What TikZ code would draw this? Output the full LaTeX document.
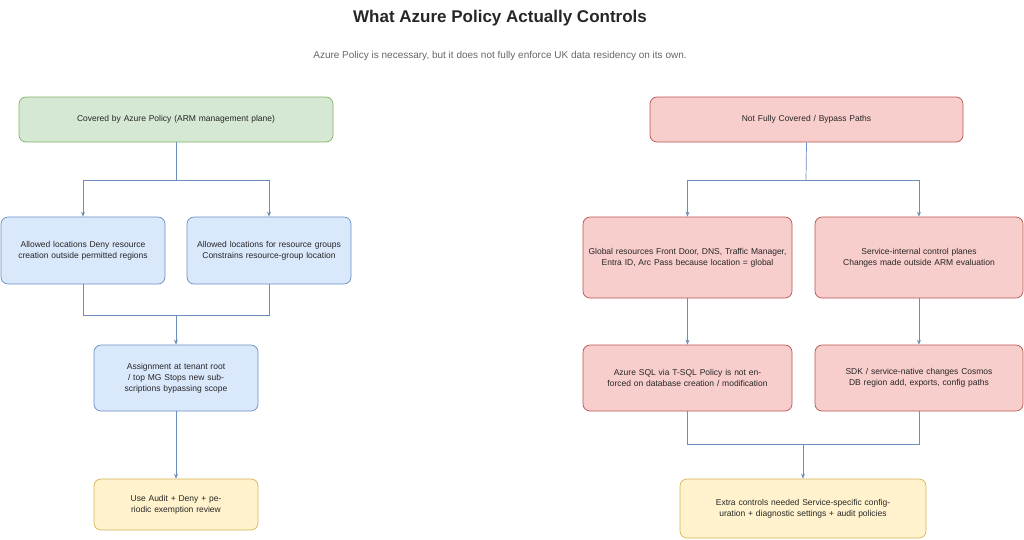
\documentclass[tikz,border=0pt]{standalone}
\usepackage{fontspec}
\setmainfont{Liberation Sans}
\usetikzlibrary{arrows.meta}
\definecolor{gf}{HTML}{D5E8D4}\definecolor{gd}{HTML}{82B366}
\definecolor{bf}{HTML}{DAE8FC}\definecolor{bd}{HTML}{6C8EBF}
\definecolor{rf}{HTML}{F8CECC}\definecolor{rd}{HTML}{B85450}
\definecolor{yf}{HTML}{FFF2CC}\definecolor{yd}{HTML}{D6B656}
\definecolor{ec}{HTML}{6C8EBF}
\tikzset{
 x=1pt,y=-1pt,
 bx/.style={draw,rounded corners=7pt,align=center,font=\fontsize{8.5}{11}\selectfont,text=black!85,inner sep=2pt,line width=0.7pt},
 gbox/.style={bx,fill=gf,draw=gd},
 bbox/.style={bx,fill=bf,draw=bd},
 rbox/.style={bx,fill=rf,draw=rd},
 ybox/.style={bx,fill=yf,draw=yd},
 ln/.style={draw=ec,line width=0.7pt},
 ar/.style={ln,-{Stealth[length=5pt,width=4pt]}}
}
\newcommand{\bxat}[6]{\node[#1,minimum width=#4-#2,minimum height=#5-#3,text width=#4-#2-6] (#6) at ({(#2+#4)/2},{(#3+#5)/2})}
\begin{document}
\begin{tikzpicture}
\useasboundingbox (0,0) rectangle (1024,539);
\node[font=\bfseries\fontsize{17}{20}\selectfont,text=black!85] (title) at (500,18) {What Azure Policy Actually Controls};
\node[font=\fontsize{10}{12}\selectfont,text=black!60] (sub) at (500,56) {Azure Policy is necessary, but it does not fully enforce UK data residency on its own.};
\bxat{gbox}{19}{97}{333}{142}{g} {Covered by Azure Policy (ARM management plane)};
\bxat{bbox}{1}{217}{165}{284}{b1} {Allowed locations Deny resource creation outside permitted regions};
\bxat{bbox}{187}{217}{351}{284}{b2} {Allowed locations for resource groups Constrains resource-group location};
\bxat{bbox}{94}{345}{258}{411}{b3} {Assignment at tenant root / top MG Stops new subscriptions bypassing scope};
\bxat{ybox}{94}{479}{258}{530}{y1} {Use Audit + Deny + periodic exemption review};
\bxat{rbox}{650}{97}{963}{142}{r} {Not Fully Covered / Bypass Paths};
\bxat{rbox}{583}{217}{792}{298}{r1} {Global resources Front Door, DNS, Traffic Manager, Entra ID, Arc Pass because location = global};
\bxat{rbox}{815}{217}{1023}{298}{r2} {Service-internal control planes Changes made outside ARM evaluation};
\bxat{rbox}{583}{345}{792}{411}{r3} {Azure SQL via T-SQL Policy is not enforced on database creation / modification};
\bxat{rbox}{815}{345}{1023}{411}{r4} {SDK / service-native changes Cosmos DB region add, exports, config paths};
\bxat{ybox}{680}{479}{926}{538}{y2} {Extra controls needed Service-specific configuration + diagnostic settings + audit policies};
\coordinate (c1) at (176,180); \coordinate (c2) at (176,315);
\coordinate (c3) at (806,180); \coordinate (c4) at (803,444);
\draw[ln] (g.south) -- (c1);
\draw[ar] (c1) -| (b1.north);
\draw[ar] (c1) -| (b2.north);
\draw[ln] (b1.south) |- (c2);
\draw[ln] (b2.south) |- (c2);
\draw[ar] (c2) -- (b3.north);
\draw[ar] (b3) -- (y1);
\draw[ln] (r.south) -- (c3);
\draw[ar] (c3) -| (r1.north);
\draw[ar] (c3) -| (r2.north);
\draw[ar] (r1) -- (r3);
\draw[ar] (r2) -- (r4);
\draw[ln] (r3.south) |- (c4);
\draw[ln] (r4.south) |- (c4);
\draw[ar] (c4) -- (y2.north);
\end{tikzpicture}
\end{document}
